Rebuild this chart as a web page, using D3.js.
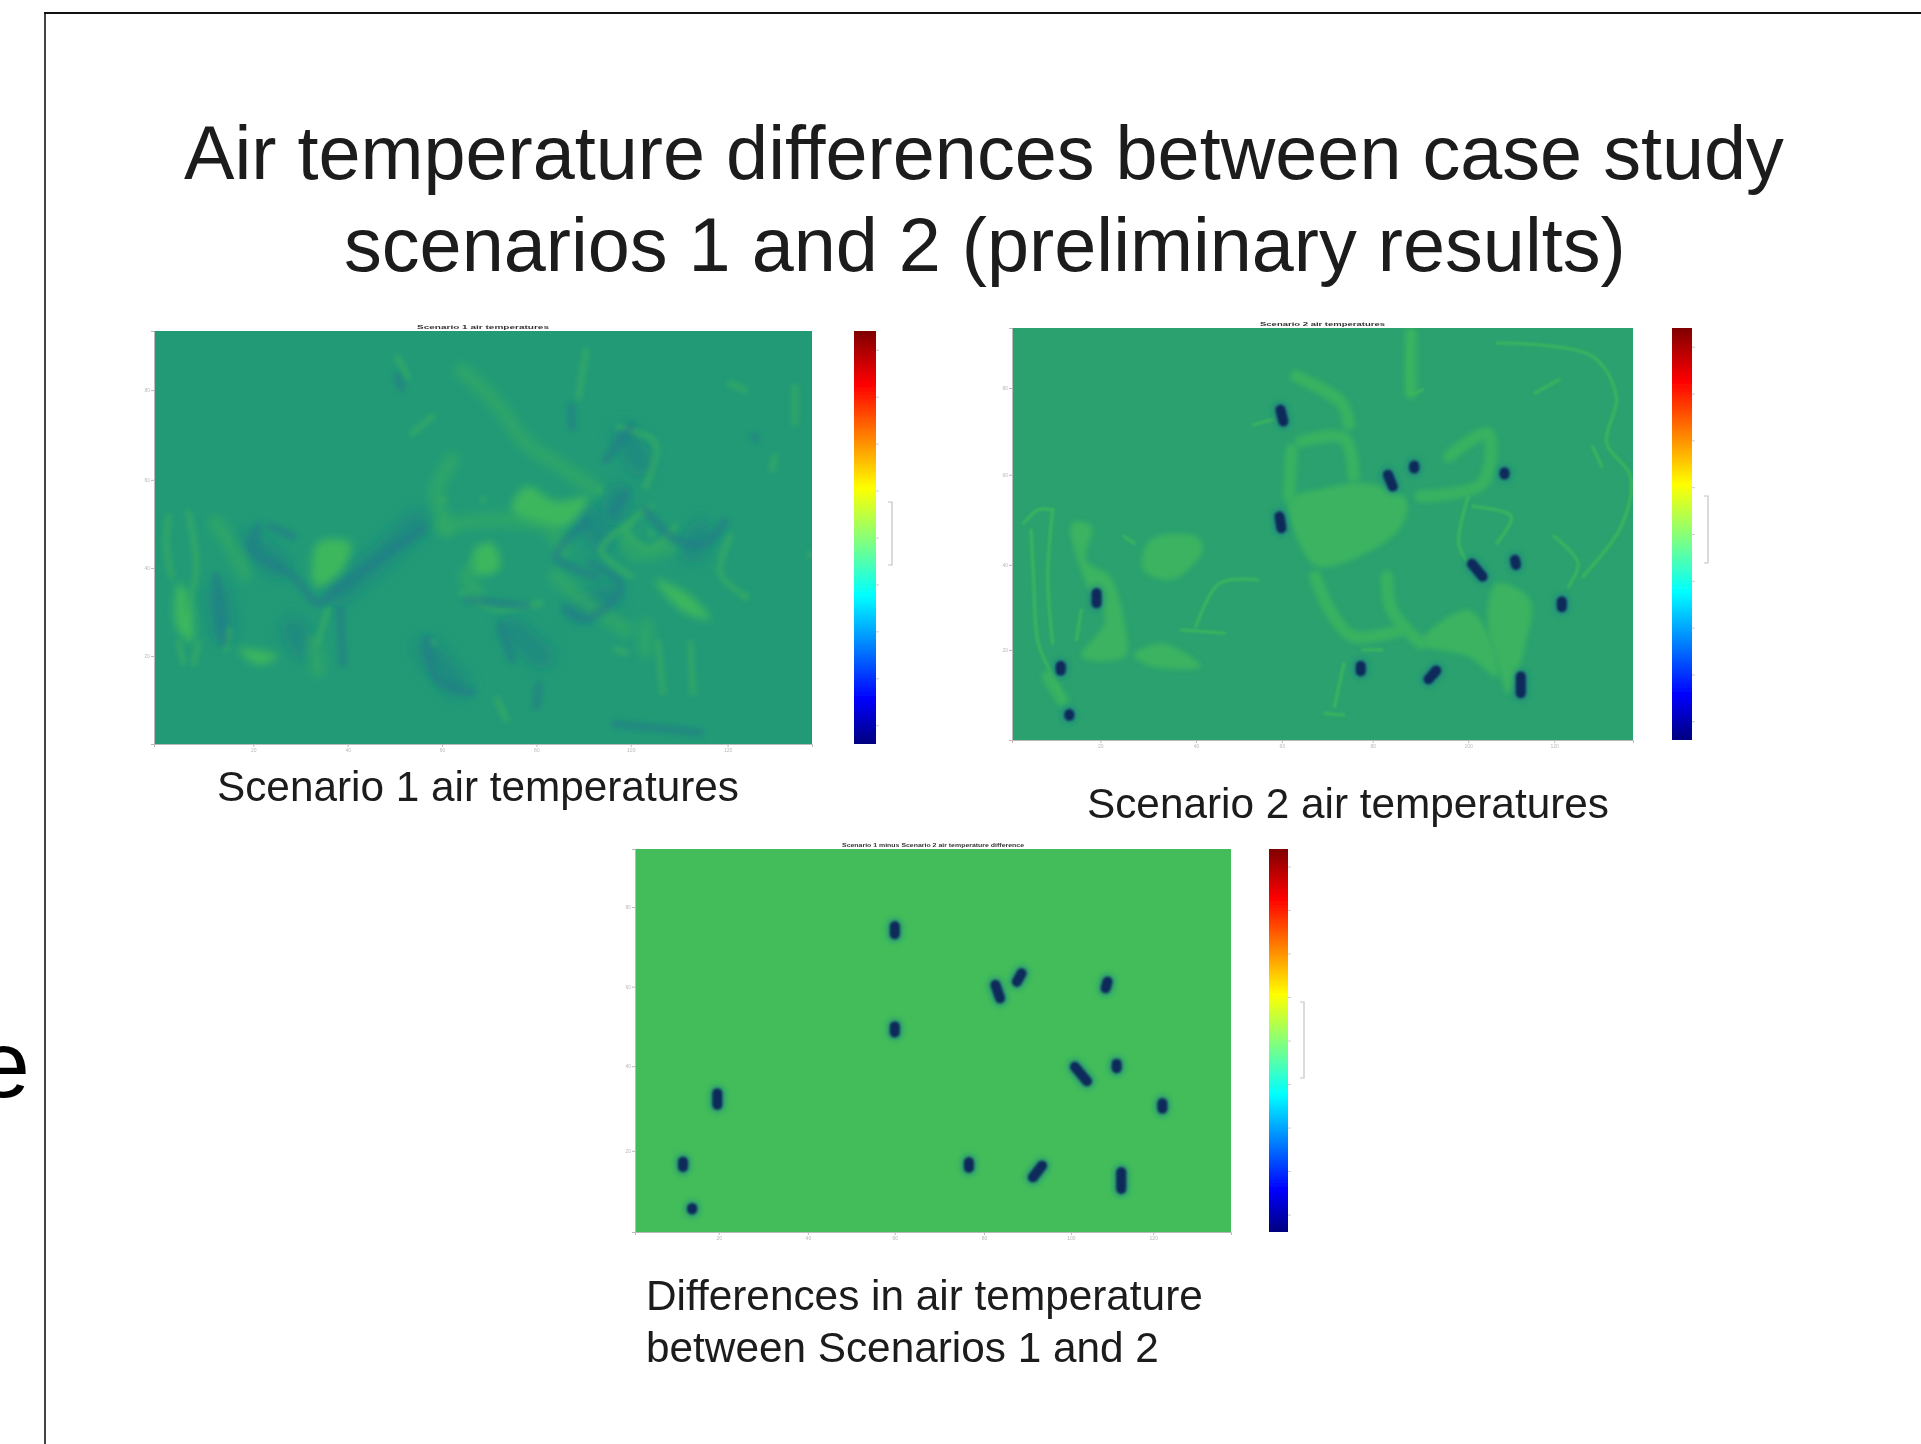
<!DOCTYPE html>
<html><head><meta charset="utf-8"><script src="https://cdn.jsdelivr.net/npm/d3@7"></script>
<style>html,body{margin:0;padding:0;background:#fff;overflow:hidden}svg{display:block}text{font-family:"Liberation Sans",Arial,sans-serif}</style></head>
<body><svg id="c" width="1921" height="1444"></svg>
<script>
// ---------- text ----------
const titleLines = ["Air temperature differences between case study","scenarios 1 and 2 (preliminary results)"];
const captionA = "Scenario 1 air temperatures";
const captionB = "Scenario 2 air temperatures";
const captionC = ["Differences in air temperature","between Scenarios 1 and 2"];
const tickLabelsX = ["20","40","60","80","100","120"];
const tickLabelsY = ["80","60","40","20"];
const barValues = [-4,-3,-2,-1,0,1,2,3,4];

// ---------- colour scales ----------
const jetStops = [0,0.11,0.36,0.62,0.87,1];
const jetColors = ["#00007f","#0000ff","#00ffff","#ffff00","#ff0000","#7f0000"];
const fieldDomain = [-4,-1.4,0,1,2];
const fieldRange = ["#082a5a","#1d7a8a","#249a76","#33aa64","#43bd5a"];

// ---------- Scenario 1 (grid units) ----------
const s1Base = 0;
const s1Warm = [
 [[770,600],[800,530],[860,575],[925,560],[880,650],[830,640]],
 [[695,720],[730,700],[745,780],[700,790]],
 [[380,700],[445,700],[425,790],[375,830]],
 [[220,1020],[300,1040],[260,1065]],
 [[100,820],[125,880],[125,1000],[95,950]],
 [[1060,810],[1130,860],[1170,930],[1110,900]]
];
const s1Glow = [
 [[630,650],[760,630],[850,660],[870,720]],
 [[175,640],[210,720],[232,790]],
 [[1000,680],[1020,730],[1090,710]],
 [[372,1000],[380,1080]],
 [[670,180],[740,280],[800,400],[870,470],[940,540]],
 [[650,450],[620,540],[640,660]],
 [[1040,950],[1040,1020]],
 [[860,800],[920,880],[1000,960]],
 [[700,850],[680,800],[720,760]]
];
const s1Mild = [
 [[920,120],[905,260]],
 [[610,320],[570,370]],
 [[80,620],[75,700],[85,800]],
 [[120,610],[135,780],[115,900]],
 [[100,1000],[110,1060]],
 [[200,960],[195,1020]],
 [[980,1020],[1000,1030]],
 [[1065,1000],[1075,1150]],
 [[1130,1000],[1135,1150]],
 [[740,1170],[760,1230]],
 [[1010,640],[950,720],[1010,800]],
 [[1050,590],[1000,660],[1050,720],[1100,650]],
 [[1300,440],[1295,480]],
 [[1340,230],[1340,340]],
 [[1210,680],[1190,790],[1240,860]],
 [[140,1000],[130,1060]],
 [[1210,220],[1240,240]],
 [[400,900],[380,1000]],
 [[540,140],[560,200]],
 [[985,350],[1060,400],[1040,530]],
 [[670,850],[740,900],[830,880]],
 [[1370,735],[1370,737]],
 [[630,570],[632,572]],[[712,570],[714,572]],[[945,540],[947,542]],
 [[1050,670],[1052,672]],[[1240,860],[1242,862]],
 [[610,1000],[612,1002]],[[690,760],[692,762]]
];
const s1Cool = [
 [[260,650],[250,720],[330,800],[380,880],[420,840],[510,740],[590,660]],
 [[425,900],[430,1060]],
 [[175,800],[190,1000]],
 [[880,900],[920,930],[990,830],[930,760]],
 [[920,640],[860,740],[940,800]],
 [[975,610],[1000,550]],
 [[1040,600],[1100,690],[1160,700],[1200,635]],
 [[600,990],[620,1110],[690,1150]],
 [[825,1130],[820,1190]],
 [[540,200],[548,232]],
 [[890,290],[892,350]],
 [[1010,350],[960,450]],
 [[1258,380],[1262,385]],
 [[980,1245],[1150,1270]],
 [[750,950],[770,1050]],
 [[680,870],[800,890]],
 [[285,650],[330,680]]
];
const s1Shade = [
 [[920,620],[950,690]],
 [[985,560],[975,610]],
 [[1150,670],[1135,720]],
 [[905,900],[965,860]],
 [[245,700],[300,770]],
 [[330,960],[350,1010]],
 [[180,860],[190,960]],
 [[600,1020],[660,1130]],
 [[770,960],[830,1040]],
 [[1000,380],[1030,460]],
 [[580,640],[500,750],[420,850]]
];

// ---------- Scenario 2 (grid units) ----------
const s2Base = 0.45;
const s2Warm = [
 [[625,570],[700,535],[790,520],[870,570],[860,650],[800,720],[685,770],[640,680]],
 [[1060,820],[1130,870],[1120,1000],[1085,1150],[1060,1060],[1040,920]],
 [[900,1000],[1000,900],[1050,1000],[1060,1100],[1000,1040]],
 [[335,690],[430,680],[445,720],[380,810],[320,780]],
 [[300,1035],[360,1000],[440,1070],[340,1070]],
 [[170,640],[212,650],[200,750],[250,800],[282,950],[282,1040],[190,1040],[240,930],[200,820]]
];
const s2Bands = [
 [[880,70],[880,250]],
 [[640,200],[735,280],[750,345]],
 [[650,395],[740,385],[760,500]],
 [[630,420],[625,560]],
 [[680,800],[710,900],[760,980],[860,960]],
 [[960,440],[1040,370],[1030,520],[900,560]],
 [[830,800],[840,900],[900,1000]],
 [[120,1100],[150,1170]]
];
const s2Lines = [
 [[70,640],[100,600],[130,600]],
 [[85,660],[90,800],[100,1000],[130,1100],[150,1170]],
 [[130,600],[120,800],[130,1000]],
 [[880,70],[880,250],[905,240]],
 [[1060,100],[1260,140],[1310,260],[1290,400],[1340,500],[1320,650],[1240,800]],
 [[1260,410],[1280,470]],
 [[1140,250],[1190,210]],
 [[720,1190],[740,1060]],
 [[430,950],[480,820],[560,810]],
 [[1000,560],[980,700],[1000,760]],
 [[1180,680],[1230,760],[1210,830]],
 [[1060,700],[1090,620],[1010,590]],
 [[550,345],[590,330]],
 [[280,680],[300,700]],
 [[400,960],[490,970]],
 [[780,1020],[820,1020]],
 [[700,1210],[740,1215]],
 [[190,900],[180,990]]
];
const s2Spots = [
 [[607,300],[613,335]],[[832,495],[842,530]],[[887,468],[887,476]],[[1076,488],[1076,494]],
 [[605,620],[609,655]],[[1008,762],[1030,800]],[[1098,750],[1100,765]],[[1196,875],[1196,892]],
 [[222,850],[222,880]],[[147,1068],[147,1082]],[[775,1068],[775,1084]],[[933,1082],[917,1108]],
 [[1110,1100],[1110,1150]],[[165,1213],[165,1217]]
];

// ---------- Difference (grid units) ----------
const s3Base = 2;
const s3Spots = [
 [[620,288],[620,312]],[[840,465],[850,505]],[[897,430],[887,455]],[[1085,455],[1081,475]],
 [[620,590],[620,608]],[[1014,712],[1040,755]],[[1105,703],[1105,716]],[[1205,822],[1205,838]],
 [[232,792],[232,826]],[[157,998],[157,1014]],[[782,1000],[782,1016]],[[942,1010],[922,1045]],
 [[1115,1030],[1115,1080]],[[177,1138],[177,1142]]
];

// ---------- panel definitions ----------
const panels = [
 {id:"a", box:[154,331,658,413], bar:[854,22], gx:[50,1375], gy:[62,1305], base:s1Base, warm:s1Warm, glow:s1Glow, mild:s1Mild, cool:s1Cool, shade:s1Shade, bands:[], lines:[], spots:[],
  tx:[250,440,630,820,1010,1205], ty:[240,510,775,1040], note:[502,565], title:"Scenario 1 air temperatures", tw:132},
 {id:"b", box:[1012,328,621,412], bar:[1672,20], gx:[45,1345], gy:[55,1290], base:s2Base, warm:s2Warm, glow:[], mild:[], cool:[], shade:[], bands:s2Bands, lines:s2Lines, spots:s2Spots,
  tx:[230,430,610,800,1000,1180], ty:[235,495,765,1020], note:[496,563], title:"Scenario 2 air temperatures", tw:125},
 {id:"c", box:[635,849,596,383], bar:[1269,19], gx:[52,1355], gy:[55,1210], base:s3Base, warm:[], glow:[], mild:[], cool:[], shade:[], bands:[], lines:[], spots:s3Spots,
  tx:[235,430,620,815,1005,1185], ty:[230,470,710,965], note:[1002,1078], title:"Scenario 1 minus Scenario 2 air temperature difference", tw:182}
];

const svg = d3.select("#c");
const defs = svg.append("defs");
const addBlur=(id,s)=>defs.append("filter").attr("id",id).attr("filterUnits","userSpaceOnUse")
  .attr("x",-20).attr("y",-20).attr("width",1961).attr("height",1484)
  .append("feGaussianBlur").attr("stdDeviation",s);
addBlur("b1",1.3);addBlur("b2",2.6);addBlur("b3",4.5);addBlur("b4",0.75);addBlur("b5",7);
const grad=defs.append("linearGradient").attr("id","jet").attr("x1",0).attr("x2",0).attr("y1",1).attr("y2",0);
jetStops.forEach((o,i)=>grad.append("stop").attr("offset",o).attr("stop-color",jetColors[i]));
const field=d3.scaleLinear().domain(fieldDomain).range(fieldRange);

// page frame and clipped letter from the neighbouring slide
svg.append("line").attr("x1",45).attr("x2",45).attr("y1",13).attr("y2",1444).attr("stroke","#444").attr("stroke-width",2);
svg.append("line").attr("x1",44).attr("x2",1921).attr("y1",13).attr("y2",13).attr("stroke","#111").attr("stroke-width",2);
svg.append("text").attr("x",-23).attr("y",1097).attr("font-size",95).attr("fill","#000").text("e");

function fitted(str,x0,x1,base){
  const t=svg.append("text").attr("x",x0).attr("y",base).attr("font-size",40).attr("fill","#1a1a1a").attr("filter","url(#b4)").text(str);
  const w=t.node().getComputedTextLength();
  t.attr("font-size",40*(x1-x0)/w);
  return t;
}
fitted(titleLines[0],184,1784,179);
fitted(titleLines[1],344,1626,271);
fitted(captionA,217,739,801);
fitted(captionB,1087,1609,818);
fitted(captionC[0],646,1203,1310);
fitted(captionC[1],646,1159,1362);

panels.forEach(p=>{
  const [bx,by,bw,bh]=p.box;
  const x=d3.scaleLinear().domain(p.gx).range([bx,bx+bw]);
  const y=d3.scaleLinear().domain(p.gy).range([by,by+bh]);
  const line=d3.line().x(d=>x(d[0])).y(d=>y(d[1])).curve(d3.curveCatmullRom);
  const area=d3.line().x(d=>x(d[0])).y(d=>y(d[1])).curve(d3.curveCatmullRomClosed);
  defs.append("clipPath").attr("id","clip"+p.id).append("rect").attr("x",bx).attr("y",by).attr("width",bw).attr("height",bh);

  svg.append("rect").attr("x",bx).attr("y",by).attr("width",bw).attr("height",bh).attr("fill",field(p.base)).attr("filter","url(#b4)");
  const g=svg.append("g").attr("clip-path",`url(#clip${p.id})`);
  const isS1=p.id==="a";
  const stroke=(cls,data,val,w,op,f)=>g.selectAll("path."+cls).data(data).join("path").attr("class",cls).attr("d",line)
    .attr("fill","none").attr("stroke",field(val)).attr("stroke-width",w).attr("stroke-opacity",op).attr("stroke-linecap","round").attr("filter",`url(#${f})`);
  stroke("sh",p.shade,-1.4,26,.45,"b5");
  stroke("gl",p.glow,1.0,16,.6,"b3");
  g.selectAll("path.w").data(p.warm).join("path").attr("class","w").attr("d",area)
    .attr("fill",field(isS1?1.7:1.45)).attr("filter",isS1?"url(#b3)":"url(#b2)");
  stroke("bn",p.bands,1.4,12,1,"b2");
  stroke("m",p.mild,1.0,6,.8,"b2");
  stroke("c",p.cool,-1.3,9,.55,"b2");
  stroke("l",p.lines,1.5,3.2,1,"b1");
  stroke("h",p.spots,-1.2,16,.6,"b2");
  stroke("s",p.spots,-4,10,1,"b1");

  // ticks
  const faint="#b9b9b9";
  const ax=svg.append("g").attr("transform",`translate(0,${by+bh})`).call(d3.axisBottom(x).tickValues(p.tx).tickSize(3).tickPadding(1).tickFormat((d,i)=>tickLabelsX[i]));
  const ay=svg.append("g").attr("transform",`translate(${bx},0)`).call(d3.axisLeft(y).tickValues(p.ty).tickSize(3).tickPadding(1).tickFormat((d,i)=>tickLabelsY[i]));
  [ax,ay].forEach(a=>{a.selectAll(".domain").attr("stroke",faint);a.selectAll("line").attr("stroke",faint);
    a.selectAll("text").attr("fill",faint).attr("font-size",5).attr("filter","url(#b4)");});
  svg.append("text").attr("x",bx+bw/2).attr("y",by-2).attr("text-anchor","middle").attr("font-size",4.5).attr("font-weight","bold")
    .attr("textLength",p.tw).attr("lengthAdjust","spacingAndGlyphs").attr("fill","#333").attr("filter","url(#b4)").text(p.title);

  // colour bar
  const [cx,cw]=p.bar;
  svg.append("rect").attr("x",cx).attr("y",by).attr("width",cw).attr("height",bh).attr("fill","url(#jet)").attr("filter","url(#b4)");
  const v=d3.scaleLinear().domain([-4.4,4.4]).range([by+bh,by]);
  const ac=svg.append("g").attr("transform",`translate(${cx+cw},0)`).call(d3.axisRight(v).tickValues(barValues).tickSize(3).tickFormat(""));
  ac.select(".domain").remove();ac.selectAll("line").attr("stroke","#ccc");
  svg.append("path").attr("d",`M${cx+cw+12},${p.note[0]}h4V${p.note[1]}h-4`).attr("fill","none").attr("stroke","#c4c4c4").attr("stroke-width",1.2);
});
</script></body></html>
